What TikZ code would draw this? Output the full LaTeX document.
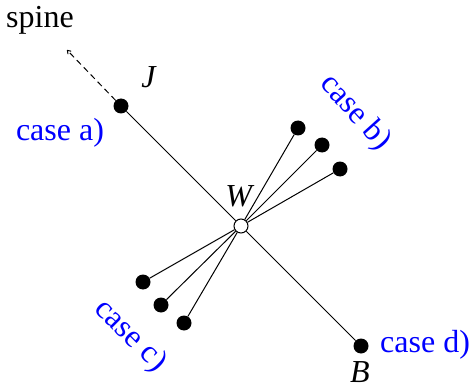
\documentclass[tikz,border=0pt]{standalone}
\usepackage{fontspec}
\setmainfont{Liberation Serif}
\usetikzlibrary{arrows.meta}
\definecolor{caseblue}{RGB}{0,0,255}
\begin{document}
\begin{tikzpicture}[x=1pt,y=-1pt,
  dot/.style={circle,fill=black,inner sep=0pt,minimum size=15pt},
  wdot/.style={circle,draw=black,fill=white,line width=1pt,inner sep=0pt,minimum size=14pt},
  lbl/.style={font=\fontsize{32}{38}\selectfont,inner sep=0pt},
  caselbl/.style={lbl,text=caseblue},
  edge/.style={line width=1pt}]
\useasboundingbox (0,0) rectangle (471,385);
\node[dot] (J) at (121,106) {};
\node[wdot] (W) at (241,226) {};
\node[dot] (B) at (361,346) {};
\node[dot] (b1) at (298,128) {};
\node[dot] (b2) at (322,145) {};
\node[dot] (b3) at (340,169) {};
\node[dot] (c1) at (143,282) {};
\node[dot] (c2) at (161,305) {};
\node[dot] (c3) at (184,323) {};
\coordinate (sp) at (67,50);
\draw[edge] (J) -- (W);
\draw[edge] (W) -- (B);
\foreach \n in {b1,b2,b3,c1,c2,c3} \draw[edge] (W) -- (\n);
\draw[edge,dashed,dash pattern=on 6pt off 4pt,-{To[length=4pt,width=5pt]}] (J) -- (sp);
\node[lbl] (spine) at (40,20) {spine};
\node[lbl] (lJ) at (149,77) {\textit{J}};
\node[lbl] (lW) at (240,196) {\textit{W}};
\node[lbl] (lB) at (360,372) {\textit{B}};
\node[caselbl] (ca) at (60,133) {case a)};
\node[caselbl,rotate=-48] (cb) at (355,113) {case b)};
\node[caselbl,rotate=-45] (cc) at (130,336) {case c)};
\node[caselbl,anchor=west] (cd) at (380,345) {case d)};
\end{tikzpicture}
\end{document}
